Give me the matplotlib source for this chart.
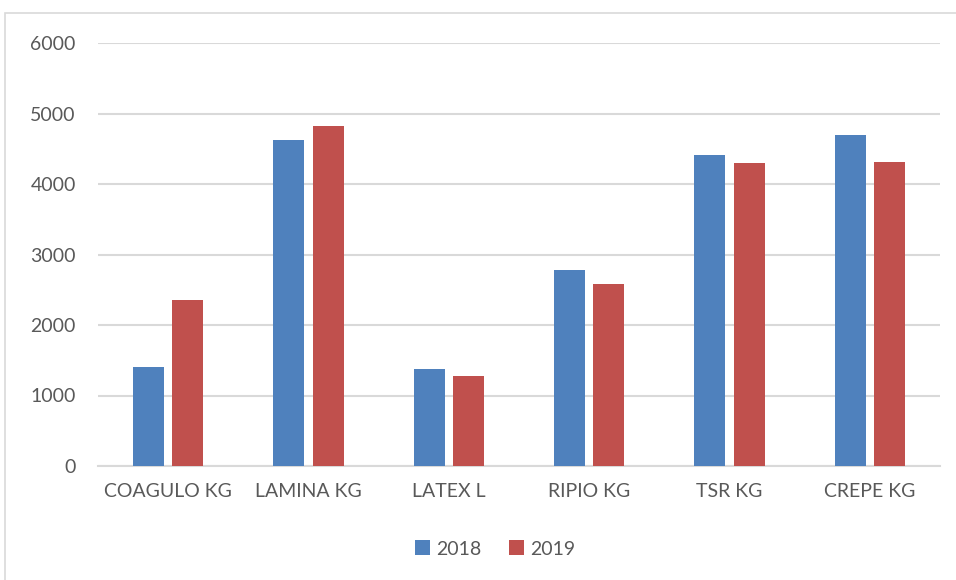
import numpy as np
import matplotlib.pyplot as plt
from matplotlib.patches import Rectangle

plt.rcParams['font.family'] = ['Lato', 'DejaVu Sans']

categories = ['COAGULO KG', 'LAMINA KG', 'LATEX L', 'RIPIO KG', 'TSR KG', 'CREPE KG']
series_names = ['2018', '2019']
values_2018 = [1410, 4630, 1378, 2784, 4413, 4688]
values_2019 = [2348, 4825, 1274, 2585, 4304, 4314]
yticks = [0, 1000, 2000, 3000, 4000, 5000, 6000]

blue = '#4F81BD'
red = '#C0504D'
text_col = '#595959'
grid_col = '#D9D9D9'

fig = plt.figure(figsize=(9.56, 5.8), dpi=100)
ax = fig.add_axes([98/956, 1-466/580, (940-98)/956, (466-43)/580])

x = np.arange(len(categories))
w = 0.22
ax.bar(x - 0.14, values_2018, w, color=blue, label=series_names[0], zorder=3)
ax.bar(x + 0.14, values_2019, w, color=red, label=series_names[1], zorder=3)

ax.set_xlim(-0.5, len(categories) - 0.5)
ax.set_ylim(0, 6000)
ax.set_yticks(yticks)
ax.set_yticklabels([str(t) for t in yticks])
ax.set_xticks(x)
ax.set_xticklabels(categories)
ax.yaxis.grid(True, color=grid_col, linewidth=1.5, zorder=0)
ax.tick_params(axis='both', length=0, labelsize=14, colors=text_col)
ax.tick_params(axis='y', pad=16)
ax.tick_params(axis='x', pad=12)
for s in ['top', 'right', 'left']:
    ax.spines[s].set_visible(False)
ax.spines['bottom'].set_color(grid_col)
ax.spines['bottom'].set_linewidth(1.5)

leg = fig.legend(loc='center', bbox_to_anchor=(495/956, 1-549/580), ncol=2,
                 frameon=False, fontsize=14, handlelength=0.8, handleheight=0.8,
                 handletextpad=0.3, columnspacing=1.4)
for t in leg.get_texts():
    t.set_color(text_col)

# outer chart border
fig.patches.append(Rectangle((5/956, -0.01), 1.0, 1 - 13/580 + 0.01,
                             transform=fig.transFigure, fill=False,
                             edgecolor=grid_col, linewidth=1.2))

fig.savefig('out.png', dpi=100)
